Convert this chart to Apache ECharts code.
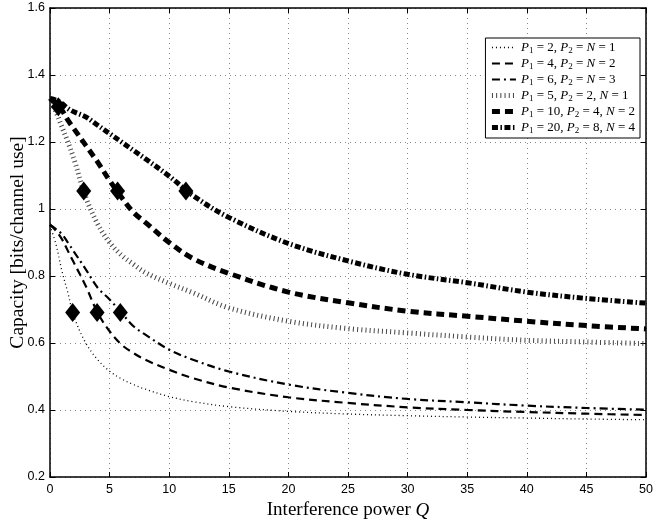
<!DOCTYPE html>
<html>
<head>
<meta charset="utf-8">
<script src="https://cdn.jsdelivr.net/npm/echarts@6/dist/echarts.min.js"></script>
<style>
html,body{margin:0;padding:0;background:#fff;}
#chart{width:655px;height:522px;}
</style>
</head>
<body>
<div id="chart"></div>
<script>
// Shared Q grid
var qGrid = [0, 0.5, 1, 1.5, 2, 3, 4, 5, 6, 7, 8, 10, 12, 15, 20, 25, 30, 35, 40, 45, 50];

// Curve values
var cap1 = [0.95, 0.895, 0.815, 0.75, 0.68, 0.60, 0.55, 0.516, 0.493, 0.476, 0.462, 0.44, 0.425, 0.41, 0.396, 0.388, 0.383, 0.379, 0.376, 0.373, 0.371];
var cap2 = [0.953, 0.935, 0.91, 0.875, 0.84, 0.77, 0.69, 0.635, 0.595, 0.57, 0.55, 0.52, 0.495, 0.467, 0.438, 0.421, 0.408, 0.40, 0.394, 0.389, 0.385];
var cap3 = [0.953, 0.94, 0.925, 0.90, 0.873, 0.82, 0.765, 0.73, 0.69, 0.65, 0.625, 0.58, 0.55, 0.515, 0.476, 0.451, 0.433, 0.423, 0.413, 0.406, 0.401];
var cap4 = [1.33, 1.29, 1.245, 1.20, 1.15, 1.035, 0.955, 0.90, 0.862, 0.835, 0.81, 0.778, 0.75, 0.705, 0.665, 0.643, 0.63, 0.618, 0.608, 0.603, 0.598];
var cap5 = [1.33, 1.315, 1.295, 1.265, 1.24, 1.19, 1.14, 1.085, 1.035, 0.99, 0.96, 0.90, 0.852, 0.808, 0.752, 0.72, 0.695, 0.68, 0.665, 0.652, 0.642];
var cap6 = [1.33, 1.325, 1.315, 1.30, 1.29, 1.275, 1.25, 1.225, 1.20, 1.175, 1.15, 1.098, 1.04, 0.975, 0.897, 0.845, 0.805, 0.78, 0.752, 0.733, 0.719];

// Diamond markers
var markQ = [1.9, 3.95, 5.9, 2.83, 5.67, 11.4, 0.7];
var markC = [0.691, 0.691, 0.691, 1.054, 1.054, 1.054, 1.305];

var legendNames = [
  'P1 = 2, P2 = N = 1',
  'P1 = 4, P2 = N = 2',
  'P1 = 6, P2 = N = 3',
  'P1 = 5, P2 = 2, N = 1',
  'P1 = 10, P2 = 4, N = 2',
  'P1 = 20, P2 = 8, N = 4'
];

var xTicks = {min: 0, max: 50, interval: 5};
var yTicks = {min: 0.2, max: 1.6, interval: 0.2};

function pairs(xs, ys) { return xs.map(function (x, i) { return [x, ys[i]]; }); }

var styles = [
  {width: 1.3, type: [1, 3], color: '#000'},
  {width: 2.2, type: [8, 5], color: '#000'},
  {width: 2.2, type: [8, 4, 2, 4], color: '#000'},
  {width: 5, type: [1, 3.2], color: '#444'},
  {width: 5, type: [8, 5], color: '#000'},
  {width: 5, type: [6, 2.5, 1.5, 2.5], color: '#000'}
];
var caps = [cap1, cap2, cap3, cap4, cap5, cap6];

var series = caps.map(function (c, i) {
  return {
    name: legendNames[i],
    type: 'line',
    data: pairs(qGrid, c),
    smooth: 0.35,
    symbol: 'circle',
    showSymbol: false,
    xAxisIndex: 0, yAxisIndex: 0,
    lineStyle: {color: styles[i].color, width: styles[i].width, type: styles[i].type, cap: 'butt'},
    itemStyle: {color: styles[i].color},
    z: 3
  };
});
series.push({
  type: 'scatter',
  data: pairs(markQ, markC),
  symbol: 'diamond',
  symbolSize: [15, 19],
  itemStyle: {color: '#000', opacity: 1},
  z: 5
});

function richLabel(s) {
  var out = s.replace(/P(\d)/g, '{i|P}{s|$1}').replace(/N/g, '{i|N}');
  var parts = out.split(/(\{[a-z]\|[^}]*\})/);
  return parts.map(function (p) {
    if (!p) return '';
    if (p.charAt(0) === '{') return p;
    return '{n|' + p + '}';
  }).join('');
}

var serif = 'Liberation Serif';
var sans = 'Liberation Sans';

var legendData = legendNames.map(function (n, i) {
  return {
    name: n,
    lineStyle: {color: styles[i].color, width: styles[i].width, type: styles[i].type, cap: 'butt'},
    itemStyle: {color: 'rgba(0,0,0,0)', borderColor: 'rgba(0,0,0,0)', borderWidth: 0}
  };
});

var chart = echarts.init(document.getElementById('chart'), null, {renderer: 'canvas'});
chart.setOption({
  animation: false,
  backgroundColor: '#fff',
  grid: {left: 50, right: 9, top: 8, bottom: 45, containLabel: false, outerBoundsMode: 'none'},
  legend: {
    data: legendData,
    orient: 'vertical',
    right: 15,
    top: 38,
    itemWidth: 24,
    itemHeight: 10,
    itemGap: 2,
    padding: [3, 5, 3, 4],
    borderColor: '#000',
    borderWidth: 1,
    backgroundColor: '#fff',
    itemStyle: {color: 'rgba(0,0,0,0)', borderColor: 'rgba(0,0,0,0)', borderWidth: 0},
    formatter: function (name) { return richLabel(name); },
    textStyle: {
      color: '#000',
      rich: {
        n: {fontFamily: serif, fontSize: 13, color: '#000', lineHeight: 15},
        i: {fontFamily: serif, fontSize: 13, fontStyle: 'italic', color: '#000', lineHeight: 15},
        s: {fontFamily: serif, fontSize: 9, color: '#000', lineHeight: 9, verticalAlign: 'bottom'}
      }
    }
  },
  xAxis: [{
    type: 'value', min: xTicks.min, max: xTicks.max, interval: xTicks.interval,
    position: 'bottom',
    name: '{n|Interference power }{i|Q}',
    nameLocation: 'middle', nameGap: 24, nameMoveOverlap: false,
    nameTextStyle: {
      rich: {
        n: {fontFamily: serif, fontSize: 19, color: '#000'},
        i: {fontFamily: serif, fontSize: 19, color: '#000', fontStyle: 'italic'}
      }
    },
    axisLine: {show: true, onZero: false, lineStyle: {color: '#000', width: 1.5}},
    axisTick: {show: true, inside: true, length: 5, lineStyle: {color: '#000'}},
    axisLabel: {color: '#000', fontFamily: sans, fontSize: 12.5, margin: 6},
    splitLine: {show: true, lineStyle: {color: '#888', width: 1, type: [1, 4]}}
  }, {
    type: 'value', min: xTicks.min, max: xTicks.max, interval: xTicks.interval,
    position: 'top',
    axisLine: {show: true, onZero: false, lineStyle: {color: '#000', width: 1.5}},
    axisTick: {show: true, inside: true, length: 5, lineStyle: {color: '#000'}},
    axisLabel: {show: false},
    splitLine: {show: false}
  }],
  yAxis: [{
    type: 'value', min: yTicks.min, max: yTicks.max, interval: yTicks.interval,
    position: 'left',
    name: 'Capacity [bits/channel use]',
    nameLocation: 'middle', nameGap: 22, nameRotate: 90, nameMoveOverlap: false,
    nameTextStyle: {fontFamily: serif, fontSize: 19.5, color: '#000'},
    axisLine: {show: true, onZero: false, lineStyle: {color: '#000', width: 1.5}},
    axisTick: {show: true, inside: true, length: 5, lineStyle: {color: '#000'}},
    axisLabel: {color: '#000', fontFamily: sans, fontSize: 12.5, margin: 5,
      formatter: function (v) { return String(+v.toFixed(1)); }},
    splitLine: {show: true, lineStyle: {color: '#888', width: 1, type: [1, 4]}}
  }, {
    type: 'value', min: yTicks.min, max: yTicks.max, interval: yTicks.interval,
    position: 'right',
    axisLine: {show: true, onZero: false, lineStyle: {color: '#000', width: 1.5}},
    axisTick: {show: true, inside: true, length: 5, lineStyle: {color: '#000'}},
    axisLabel: {show: false},
    splitLine: {show: false}
  }],
  series: series
});
</script>
</body>
</html>
